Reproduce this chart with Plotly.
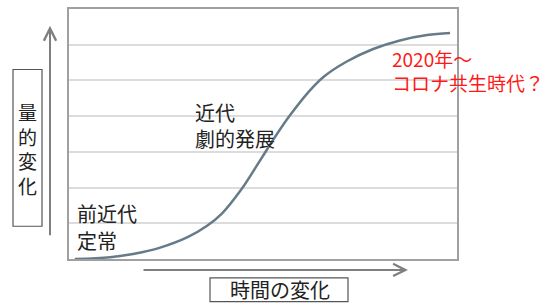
import plotly.graph_objects as go

# Curve (time vs quantity)
time_x = [0.15, 1.06, 1.65, 2.35, 3.07, 3.56, 3.94, 4.43, 4.82, 5.10, 5.36, 5.70,
          6.16, 6.55, 7.16, 7.84, 8.53, 9.23, 9.82]
quantity_y = [0.0, 0.05, 0.14, 0.32, 0.62, 0.93, 1.27, 1.93, 2.58, 3.06, 3.50, 4.03,
              4.66, 5.09, 5.53, 5.88, 6.12, 6.27, 6.33]

grid_vals = [1, 2, 3, 4, 5, 6]

label_premodern = ["前近代", "定常"]
label_modern = ["近代", "劇的発展"]
label_future = ["2020年～", "コロナ共生時代？"]
y_title_chars = ["量", "的", "変", "化"]
x_title = "時間の変化"

FONT = "Noto Sans CJK JP"
W, H = 553, 303
L, R, T, B = 69, 457, 7, 259  # plot area in pixels


def px(x):
    return (x - L) / (R - L)


def py(y):
    return (B - y) / (B - T)


fig = go.Figure()
fig.add_trace(go.Scatter(
    x=time_x, y=quantity_y, mode="lines",
    line=dict(color="#667b89", width=2.5, shape="spline", smoothing=1.0),
    hoverinfo="skip", showlegend=False,
))

ann = []


def text_lines(lines, left, first_center, step, size, color):
    for i, t in enumerate(lines):
        ann.append(dict(x=px(left), y=py(first_center + i * step), xref="paper", yref="paper",
                        text=t, showarrow=False, xanchor="left", yanchor="middle",
                        align="left", borderpad=0,
                        font=dict(family=FONT, size=size, color=color)))


text_lines(label_premodern, 76, 213.5, 26.5, 20, "#222222")
text_lines(label_modern, 194, 111.5, 26.5, 20, "#222222")
text_lines(label_future, 391, 56.5, 25, 19, "#ff1a1a")

# vertical y title
ann.append(dict(x=px(27.5), y=py(148), xref="paper", yref="paper",
                text="<br>".join(y_title_chars), showarrow=False,
                xanchor="center", yanchor="middle", align="center", borderpad=0,
                font=dict(family=FONT, size=19, color="#222222")))
# x title
ann.append(dict(x=px(279.5), y=py(290), xref="paper", yref="paper",
                text=x_title, showarrow=False, xanchor="center", yanchor="middle",
                font=dict(family=FONT, size=20, color="#222222")))
# arrows
ann.append(dict(x=px(50), y=py(24), xref="paper", yref="paper", ax=0, ay=211,
                axref="pixel", ayref="pixel", text="", showarrow=True,
                arrowhead=5, arrowsize=1.2, arrowwidth=2, arrowcolor="#7f7f7f"))
ann.append(dict(x=px(408), y=py(270), xref="paper", yref="paper", ax=-266, ay=0,
                axref="pixel", ayref="pixel", text="", showarrow=True,
                arrowhead=5, arrowsize=1.2, arrowwidth=2, arrowcolor="#7f7f7f"))

shapes = [
    dict(type="rect", xref="paper", yref="paper", x0=px(13), x1=px(42), y0=py(226), y1=py(68),
         line=dict(color="#555555", width=1.2), fillcolor="rgba(0,0,0,0)"),
    dict(type="rect", xref="paper", yref="paper", x0=px(210), x1=px(348), y0=py(302), y1=py(278),
         line=dict(color="#555555", width=1.2), fillcolor="rgba(0,0,0,0)"),
]

fig.update_layout(
    width=W, height=H,
    margin=dict(l=L, r=W - R, t=T, b=H - B, pad=0),
    paper_bgcolor="white", plot_bgcolor="white",
    annotations=ann, shapes=shapes,
    xaxis=dict(range=[0, 10], showgrid=False, zeroline=False, showticklabels=False,
               ticks="", showline=True, mirror=True, linecolor="#a0a0a0", linewidth=2,
               fixedrange=True),
    yaxis=dict(range=[0, 7], tickvals=grid_vals, showgrid=True, gridcolor="#dcdcdc", gridwidth=1.5,
               zeroline=False, showticklabels=False, ticks="", showline=True, mirror=True,
               linecolor="#a0a0a0", linewidth=2, fixedrange=True),
    showlegend=False,
)

fig.write_html("out.html", config={"displayModeBar": False},
               post_script="document.body.style.margin='0';document.body.style.overflow='hidden';")
